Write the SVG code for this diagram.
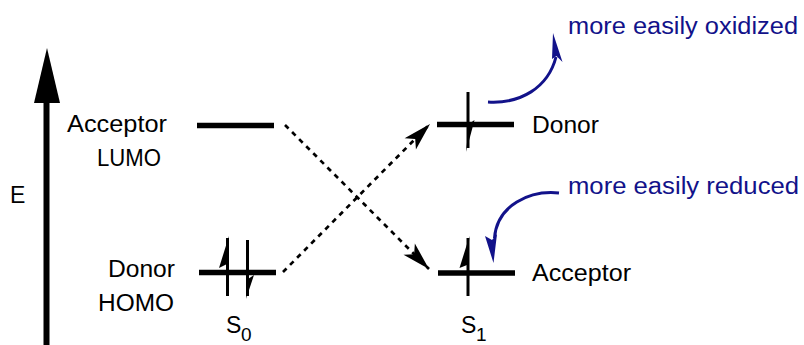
<svg xmlns="http://www.w3.org/2000/svg" width="804" height="345" viewBox="0 0 804 345">
<style>
text{font-family:"Liberation Sans",Arial,sans-serif;font-size:23px;fill:#000}
.blue{fill:#12128a}
.lvl{stroke:#000;stroke-width:5.5;fill:none}
.spin{stroke:#000;stroke-width:3;fill:none}
.dash{stroke:#000;stroke-width:2.7;stroke-dasharray:5 5;fill:none}
.curve{stroke:#12128a;stroke-width:3;fill:none}
text.sub{font-size:19px}
</style>
<defs>
<marker id="ah" markerUnits="userSpaceOnUse" orient="auto" refX="0" refY="0" markerWidth="40" markerHeight="30" viewBox="-32 -15 40 30" overflow="visible">
<path d="M0,0 L-28,-8 L-21,0 L-28,8 Z" fill="#000"/>
</marker>
</defs>
<rect width="804" height="345" fill="#fff"/>
<g id="axis">
<line x1="46.5" y1="345" x2="46.5" y2="95" stroke="#000" stroke-width="6"/>
<polygon points="47,48 34,103 60,103" fill="#000"/>
<text x="10" y="203" font-size="25">E</text>
</g>
<g id="s0-lumo">
<line class="lvl" x1="197" y1="125.5" x2="274" y2="125.5"/>
<text x="67" y="132" textLength="100" lengthAdjust="spacingAndGlyphs">Acceptor</text>
<text x="97" y="166" textLength="64" lengthAdjust="spacingAndGlyphs">LUMO</text>
</g>
<g id="s0-homo">
<line class="lvl" x1="199" y1="272.5" x2="276" y2="272.5"/>
<line class="spin" x1="227.5" y1="238" x2="227.5" y2="296"/>
<polygon points="229,236 219,268 227,264" fill="#000"/>
<line class="spin" x1="247.5" y1="240" x2="247.5" y2="296"/>
<polygon points="246,299 254,275 248,279" fill="#000"/>
<text x="108" y="277" textLength="67" lengthAdjust="spacingAndGlyphs">Donor</text>
<text x="98" y="311" textLength="76" lengthAdjust="spacingAndGlyphs">HOMO</text>
</g>
<g id="s1-donor">
<line class="lvl" x1="437" y1="124.5" x2="514" y2="124.5"/>
<line class="spin" x1="468" y1="92" x2="468" y2="148"/>
<polygon points="466,152 474.5,120 469,124" fill="#000"/>
<text x="532" y="133" textLength="67" lengthAdjust="spacingAndGlyphs">Donor</text>
</g>
<g id="s1-acceptor">
<line class="lvl" x1="438" y1="273" x2="515" y2="273"/>
<line class="spin" x1="468" y1="238" x2="468" y2="296"/>
<polygon points="469.5,236 459.5,268 467,265" fill="#000"/>
<text x="532" y="281" textLength="99" lengthAdjust="spacingAndGlyphs">Acceptor</text>
</g>
<g id="labels">
<text x="226" y="333">S</text>
<text class="sub" x="241" y="341">0</text>
<text x="461" y="333">S</text>
<text class="sub" x="476" y="341">1</text>
</g>
<g id="notes">
<text class="blue" x="568" y="34" textLength="230" lengthAdjust="spacingAndGlyphs">more easily oxidized</text>
<text class="blue" x="568" y="194" textLength="231" lengthAdjust="spacingAndGlyphs">more easily reduced</text>
</g>
<g id="connectors">
<line class="dash" x1="285" y1="125" x2="429" y2="269" marker-end="url(#ah)"/>
<line class="dash" x1="283" y1="272" x2="430" y2="124" marker-end="url(#ah)"/>
<path class="curve" d="M488,102 C520,104 548,88 556,57"/>
<polygon points="553,33 562.5,62 556.5,56 552,59" fill="#12128a"/>
<path class="curve" d="M559,193 C530,190 497,205 494.5,238"/>
<polygon points="493.5,263 485,236 492,240 497,234" fill="#12128a"/>
</g>
</svg>
